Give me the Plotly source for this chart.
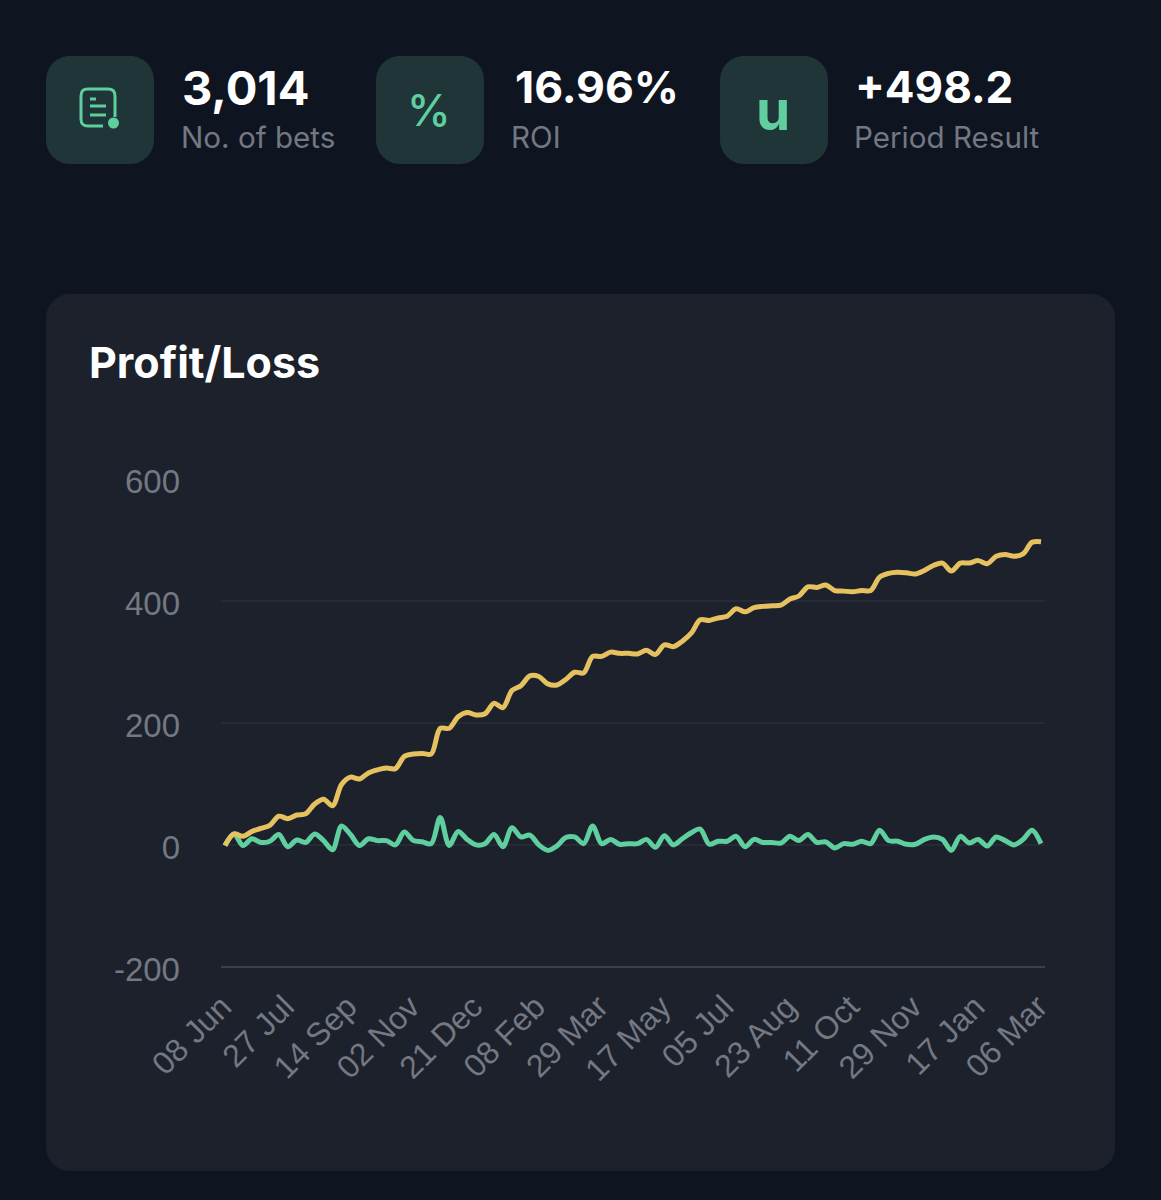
import pandas as pd
import plotly.graph_objects as go

W, H = 1161, 1200

START_DATE = "2022-06-08"
tick_dates = ["2022-06-08", "2022-07-27", "2022-09-14", "2022-11-02", "2022-12-21", "2023-02-08", "2023-03-29",
              "2023-05-17", "2023-07-05", "2023-08-23", "2023-10-11", "2023-11-29", "2024-01-17", "2024-03-06"]
tick_labels = ["08 Jun", "27 Jul", "14 Sep", "02 Nov", "21 Dec", "08 Feb", "29 Mar",
               "17 May", "05 Jul", "23 Aug", "11 Oct", "29 Nov", "17 Jan", "06 Mar"]
y_ticks = [-200, 0, 200, 400, 600]
y_labels = ["-200", "0", "200", "400", "600"]

cumulative = [0, 19, 15, 23, 28, 33, 48, 44, 50, 52, 68, 76, 65, 100, 112, 109, 119, 124, 127, 126, 146, 150, 151,
              150, 192, 192, 211, 218, 214, 216, 233, 226, 254, 262, 278, 277, 265, 263, 272, 284, 283, 310, 310,
              317, 315, 315, 314, 320, 313, 329, 326, 335, 348, 370, 369, 373, 376, 388, 383, 390, 392, 393, 394,
              404, 409, 424, 423, 427, 418, 417, 416, 418, 418, 440, 446, 448, 447, 445, 451, 459, 463, 450, 463,
              463, 467, 462, 474, 477, 474, 478, 497, 498]
weekly = [0, 19, 0, 11, 5, 7, 18, -2, 9, 5, 19, 8, -7, 32, 18, 0, 11, 8, 8, 1, 22, 8, 6,
          3, 46, 0, 23, 10, 1, 3, 18, -2, 29, 14, 17, 1, -8, -1, 13, 14, 3, 32, 3,
          10, 2, 3, 3, 10, -3, 16, 1, 11, 21, 27, 2, 7, 7, 15, -2, 10, 5, 5, 4,
          15, 8, 18, 5, 6, -4, 3, 2, 7, 3, 25, 8, 7, 2, 2, 10, 14, 10, -8, 15,
          4, 10, -1, 14, 8, 1, 10, 25, 3]
dates = pd.date_range(START_DATE, periods=len(cumulative), freq="7D")

BG, CARD, TILE = "#0f1520", "#1c212c", "#1f3537"
GREEN, YELLOW = "#5fcf9f", "#e6c15f"
MUTED, GRID, AXIS = "#737883", "#252a35", "#3a3f4a"
FONT = "Inter"


def px(x):
    return round(x / W, 5)


def py(y):
    return round(1 - y / H, 5)


def path(pts, closed=False, fill=None, line=None, width=0):
    parts = []
    for p in pts:
        coords = p[1:]
        xy = [f"{px(coords[i])},{py(coords[i + 1])}" for i in range(0, len(coords), 2)]
        parts.append(p[0] + " ".join(xy))
    d = " ".join(parts) + (" Z" if closed else "")
    return dict(type="path", xref="paper", yref="paper", path=d, layer="below",
                fillcolor=fill or "rgba(0,0,0,0)",
                line=dict(color=line or "rgba(0,0,0,0)", width=width))


def rrect(x0, y0, x1, y1, r, **kw):
    k = r * 0.45
    pts = [("M", x0 + r, y0), ("L", x1 - r, y0), ("C", x1 - k, y0, x1, y0 + k, x1, y0 + r), ("L", x1, y1 - r),
           ("C", x1, y1 - k, x1 - k, y1, x1 - r, y1), ("L", x0 + r, y1), ("C", x0 + k, y1, x0, y1 - k, x0, y1 - r),
           ("L", x0, y0 + r), ("C", x0, y0 + k, x0 + k, y0, x0 + r, y0)]
    return path(pts, closed=True, **kw)


shapes = [
    rrect(46, 294, 1115, 1171, 24, fill=CARD),
    rrect(46, 56, 154, 164, 24, fill=TILE),
    rrect(376, 56, 484, 164, 24, fill=TILE),
    rrect(720, 56, 828, 164, 24, fill=TILE),
    # document icon
    path([("M", 115, 117), ("L", 115, 96), ("C", 115, 91, 112, 89, 108, 89), ("L", 88, 89),
          ("C", 83, 89, 81, 91, 81, 96), ("L", 81, 119), ("C", 81, 124, 83, 126, 88, 126), ("L", 103, 126)],
         line=GREEN, width=3),
    path([("M", 90, 99), ("L", 96, 99)], line=GREEN, width=3),
    path([("M", 90, 106), ("L", 106, 106)], line=GREEN, width=3),
    path([("M", 90, 115), ("L", 106, 115)], line=GREEN, width=3),
    dict(type="circle", xref="paper", yref="paper", layer="below", x0=px(108), x1=px(119), y0=py(128.5), y1=py(117.5),
         fillcolor=GREEN, line=dict(width=0)),
    dict(type="line", xref="paper", yref="paper", x0=px(221), x1=px(1045), y0=py(967), y1=py(967),
         line=dict(color=AXIS, width=2), layer="below"),
]


def label(x, y, text, size, color, weight=400, anchor="left"):
    return dict(xref="paper", yref="paper", x=px(x), y=py(y), text=text, showarrow=False, xanchor=anchor,
                yanchor="middle", borderpad=0, font=dict(family=FONT, size=size, color=color, weight=weight))


annotations = [
    label(181, 87, "3,014", 47, "#ffffff", 700),
    label(180, 137, "No. of bets", 29.6, MUTED),
    label(514, 87, "16.96%", 44.5, "#ffffff", 700),
    label(510, 137, "ROI", 29.6, MUTED),
    label(854, 87, "+498.2", 44, "#ffffff", 700),
    label(853, 137, "Period Result", 29.6, MUTED),
    label(429, 110, "%", 44, GREEN, 500, "center"),
    label(773, 110, "u", 55, GREEN, 700, "center"),
    label(88, 362, "Profit/Loss", 43, "#ffffff", 700),
]

fig = go.Figure()
fig.add_trace(go.Scatter(x=dates, y=weekly, mode="lines", name="Period",
                         line=dict(color=GREEN, width=5, shape="spline", smoothing=0.9)))
fig.add_trace(go.Scatter(x=dates, y=cumulative, mode="lines", name="Cumulative",
                         line=dict(color=YELLOW, width=5, shape="spline", smoothing=0.9)))

pad = pd.Timedelta(days=3.1)
fig.update_layout(
    width=W, height=H, margin=dict(l=0, r=0, t=0, b=0), autosize=False,
    paper_bgcolor=BG, plot_bgcolor="rgba(0,0,0,0)", showlegend=False,
    shapes=shapes, annotations=annotations,
    xaxis=dict(domain=[px(221), px(1045)], anchor="y", type="date", range=[dates[0] - pad, dates[-1] + pad],
               automargin=False, tickvals=tick_dates, ticktext=tick_labels, tickangle=-45, ticks="", showgrid=False,
               ticklabelstandoff=13, ticklabelshift=-3,
               showline=False, zeroline=False, tickfont=dict(family="Liberation Sans", size=32, color=MUTED)),
    yaxis=dict(domain=[py(967.5), py(479.5)], range=[-200, 600], tickvals=y_ticks, ticktext=y_labels, ticks="",
               automargin=False, ticklabelstandoff=40, ticklabelshift=2,
               gridcolor=GRID, gridwidth=2, zeroline=False, showline=False,
               tickfont=dict(family="Liberation Sans", size=33, color=MUTED)),
)
fig.write_html("out.html", config=dict(displayModeBar=False),
               post_script="document.body.style.margin='0';document.body.style.background='%s';" % BG)
